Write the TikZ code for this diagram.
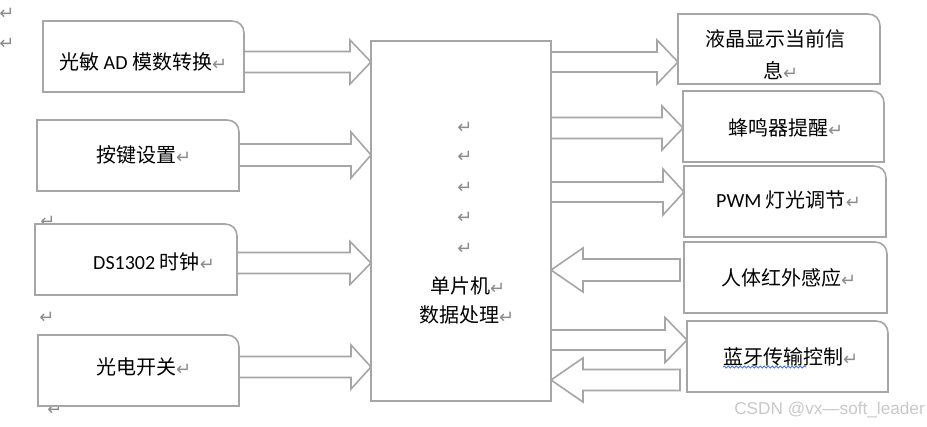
\documentclass[tikz,border=0pt]{standalone}
\usepackage{fontspec}
\setmainfont{Carlito}
\newfontfamily\cjk{Noto Sans CJK SC}
\newfontfamily\dvs{DejaVu Sans}
\newfontfamily\wmfont{Liberation Sans}
\usetikzlibrary{calc,decorations.pathmorphing}
\definecolor{linegray}{HTML}{A6A6A6}
\definecolor{markgray}{HTML}{8C8C8C}
\definecolor{wmgray}{HTML}{C8C8C8}
\definecolor{spellblue}{HTML}{3C78E0}
\newcommand\retglyph{{\dvs\fontsize{18}{18}\selectfont\color{markgray}↵}}
\newcommand\retmark{\smash{\raisebox{-1pt}{\retglyph}}}
\newcommand\rbox[1]{\draw[outline] (#1.south west) -- (#1.north west) -- ([xshift=-12pt]#1.north east) .. controls ([xshift=-5pt]#1.north east) and ([yshift=-5pt]#1.north east) .. ([yshift=-12pt]#1.north east) -- (#1.south east) -- cycle;}
% right-pointing block arrow: from #1 (east side) to #2 (west side), y=#3, shaft half #4, head half #5, head length #6
\newcommand\arrowR[6]{\draw[barrow] (#1.east |- 0,#3-#4) -- ($(#2.west |- 0,#3-#4)+(-#6pt,0)$) -- ($(#2.west |- 0,#3-#5)+(-#6pt,0)$) -- (#2.west |- 0,#3) -- ($(#2.west |- 0,#3+#5)+(-#6pt,0)$) -- ($(#2.west |- 0,#3+#4)+(-#6pt,0)$) -- (#1.east |- 0,#3+#4) -- cycle;}
% left-pointing block arrow: from #1 (west side, gap #7) to #2 (east side)
\newcommand\arrowL[7]{\draw[barrow] ($(#1.west |- 0,#3-#4)+(-#7pt,0)$) -- ($(#2.east |- 0,#3-#4)+(#6pt,0)$) -- ($(#2.east |- 0,#3-#5)+(#6pt,0)$) -- (#2.east |- 0,#3) -- ($(#2.east |- 0,#3+#5)+(#6pt,0)$) -- ($(#2.east |- 0,#3+#4)+(#6pt,0)$) -- ($(#1.west |- 0,#3+#4)+(-#7pt,0)$) -- cycle;}
\tikzset{
  boxshape/.style={draw=none, fill=none, rectangle, inner sep=0pt, outer sep=0pt, minimum height=71pt, minimum width=#1},
  outline/.style={draw=linegray, line width=1.6pt, fill=white},
  barrow/.style={draw=linegray, line width=1.6pt, fill=white, line join=miter},
  lbl/.style={anchor=west, inner sep=0pt, font=\fontsize{20}{24}\selectfont},
  retnode/.style={inner sep=0pt},
}
\begin{document}
\begin{tikzpicture}[x=1pt, y=-1pt]
\useasboundingbox (0,0) rectangle (927,427);
% stray paragraph marks
\node[retnode] (s1) at (7,14) {\retglyph};
\node[retnode] (s2) at (7,44) {\retglyph};
\node[retnode] (s3) at (48,222) {\retglyph};
\node[retnode] (s4) at (47,318) {\retglyph};
\node[retnode] (s5) at (55,410) {\retglyph};
% box nodes
\node[boxshape=201pt] (l1) at (143.5,56.5) {};
\node[boxshape=202pt] (l2) at (138,155.5) {};
\node[boxshape=202pt] (l3) at (136,259.5) {};
\node[boxshape=201pt] (l4) at (138.5,370.5) {};
\node[boxshape=202pt, minimum height=70pt] (r1) at (779,49) {};
\node[boxshape=201pt] (r2) at (783.5,126.5) {};
\node[boxshape=202pt] (r3) at (785,201.5) {};
\node[boxshape=203pt] (r4) at (785.5,277.5) {};
\node[boxshape=201pt] (r5) at (787.5,356.5) {};
\node[draw=linegray, line width=1.6pt, fill=white, rectangle, inner sep=0pt, outer sep=0pt, minimum width=180pt, minimum height=360pt] (c) at (461,221) {};
\foreach \b in {l1,l2,l3,l4,r1,r2,r3,r4,r5}{\rbox{\b}}
% block arrows
\arrowR{l1}{c}{62}{10.5}{22}{21}
\arrowR{l2}{c}{155}{11}{23}{20}
\arrowR{l3}{c}{263}{10.5}{21.5}{21}
\arrowR{l4}{c}{367}{10.5}{22}{20}
\arrowR{c}{r1}{62}{10}{22}{21}
\arrowR{c}{r2}{128}{10.5}{22}{21}
\arrowR{c}{r3}{192}{10}{23}{21}
\arrowL{r4}{c}{270}{11}{22}{32}{4}
\arrowR{c}{r5}{340}{10}{22.5}{22}
\arrowL{r5}{c}{380}{10.5}{22}{32}{7}
% labels
\node[lbl] (t1) at (59,62) {{\cjk 光敏} AD {\cjk 模数转换}\retmark};
\node[lbl] (t2) at (96,155) {{\cjk 按键设置}\retmark};
\node[lbl] (t3) at (93,262) {DS1302 {\cjk 时钟}\retmark};
\node[lbl] (t4) at (96,367) {{\cjk 光电开关}\retmark};
\node[lbl] (tr1a) at (705,39) {{\cjk 液晶显示当前信}};
\node[lbl] (tr1b) at (763,71) {{\cjk 息}\retmark};
\node[lbl] (tr2) at (728,128) {{\cjk 蜂鸣器提醒}\retmark};
\node[lbl] (tr3) at (716,200) {PWM {\cjk 灯光调节}\retmark};
\node[lbl] (tr4) at (721,278) {{\cjk 人体红外感应}\retmark};
\node[lbl] (tr5) at (723,357) {{\cjk 蓝牙传输控制}\retmark};
\draw[spellblue, line width=0.8pt, decorate, decoration={snake, amplitude=1.1pt, segment length=4pt}] (723,367) -- (806,367);
% centre texts
\foreach \yy [count=\i] in {128,157,188,218,249}{\node[retnode] (cm\i) at (465,\yy) {\retglyph};}
\node[lbl] (ct1) at (430,286) {{\cjk 单片机}\retmark};
\node[lbl] (ct2) at (419,315) {{\cjk 数据处理}\retmark};
% watermark
\node[anchor=east, inner sep=0pt, text=wmgray, font=\wmfont\fontsize{17.2}{19}\selectfont] (wm) at (925,410) {CSDN @vx—soft\_leader};
\end{tikzpicture}
\end{document}
